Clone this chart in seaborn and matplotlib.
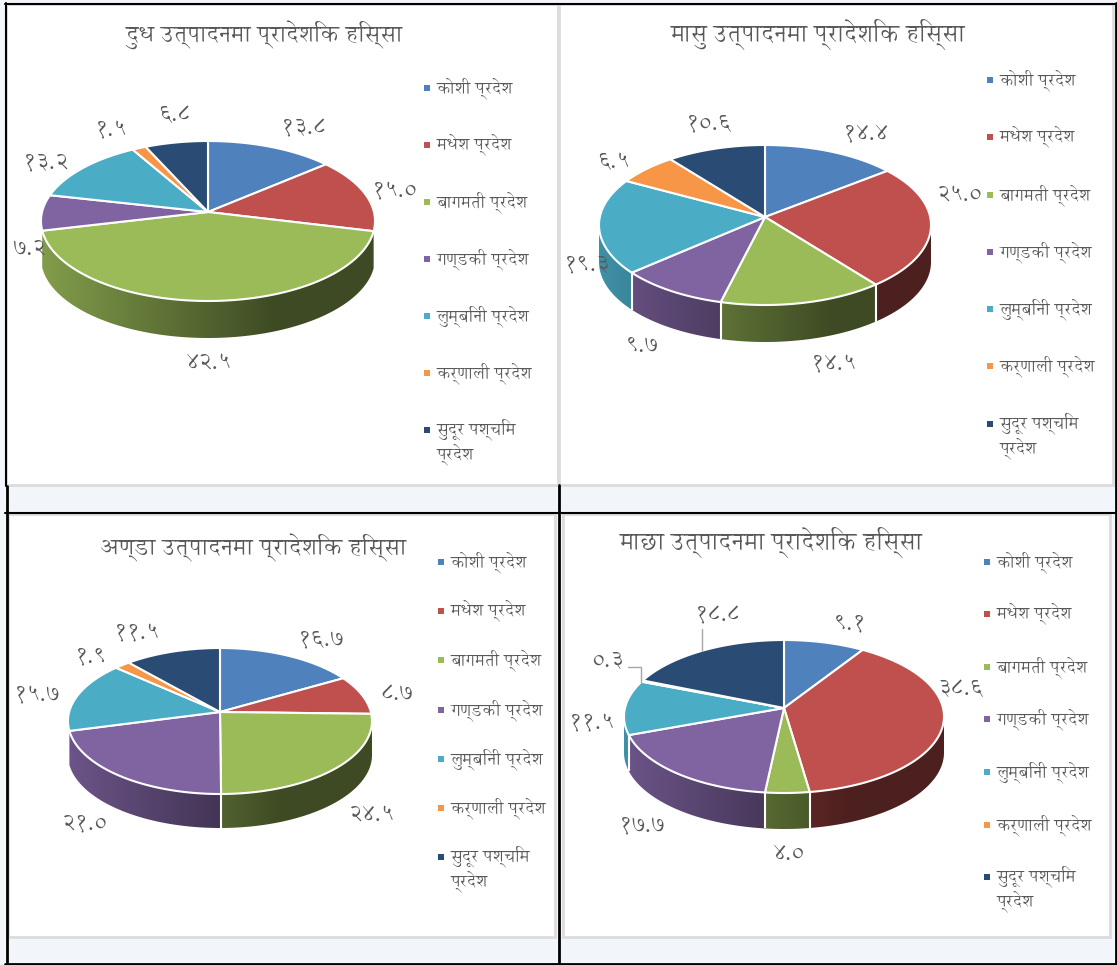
import numpy as np
import matplotlib
matplotlib.use("Agg")
import matplotlib.pyplot as plt
import seaborn as sns
from matplotlib.colors import to_rgb
from matplotlib.lines import Line2D
from matplotlib.patches import Polygon, Rectangle

# data
provinces = ["कोशी प्रदेश", "मधेश प्रदेश", "बागमती प्रदेश", "गण्डकी प्रदेश",
             "लुम्बिनी प्रदेश", "कर्णाली प्रदेश", "सुदूर पश्चिम\nप्रदेश"]
milk = [13.8, 15.0, 42.5, 7.2, 13.2, 1.5, 6.8]
meat = [14.4, 25.0, 14.5, 9.7, 19.3, 6.5, 10.6]
egg = [16.7, 8.7, 24.5, 21.0, 15.7, 1.9, 11.5]
fish = [9.1, 38.6, 4.0, 17.7, 11.5, 0.3, 18.8]
milk_labels = ["१३.८", "१५.०", "४२.५", "७.२", "१३.२", "१.५", "६.८"]
meat_labels = ["१४.४", "२५.०", "१४.५", "९.७", "१९.३", "६.५", "१०.६"]
egg_labels = ["१६.७", "८.७", "२४.५", "२१.०", "१५.७", "१.९", "११.५"]
fish_labels = ["९.१", "३८.६", "४.०", "१७.७", "११.५", "०.३", "१८.८"]
titles = ["दुध उत्पादनमा प्रादेशिक हिस्सा", "मासु उत्पादनमा प्रादेशिक हिस्सा",
          "अण्डा उत्पादनमा प्रादेशिक हिस्सा", "माछा उत्पादनमा प्रादेशिक हिस्सा"]
colors = ["#4F81BD", "#C0504D", "#9BBB59", "#8064A2", "#4BACC6", "#F79646", "#2A4B74"]

W, H = 1117, 965
FONT = ["Annapurna SIL", "DejaVu Sans"]
TEXT = "#595959"

sns.set_theme(style="white")
plt.rcParams["font.family"] = FONT

# layout of each panel, in picture pixels
panels = [
    dict(values=milk, labels=milk_labels, title=titles[0], box=(6, 4, 558, 485),
         cx=208, cy=212, rx=167, up=71, down=89, depth=37, title_xy=(264, 35), title_size=16.4,
         label_xy=[(304, 127), (395, 190), (209, 362), (30, 247), (46, 161), (111, 129), (175, 114)],
         leg_x=427, leg_y=[88, 145, 202, 259, 316, 373, 430]),
    dict(values=meat, labels=meat_labels, title=titles[1], box=(559, 4, 1113, 485),
         cx=765, cy=217, rx=166, up=72, down=88, depth=37, title_xy=(817, 35), title_size=17,
         label_xy=[(866, 132), (959, 194), (834, 363), (642, 345), (587, 263), (614, 161), (709, 122)],
         leg_x=990, leg_y=[80, 137, 195, 252, 309, 366, 424]),
    dict(values=egg, labels=egg_labels, title=titles[2], box=(8, 514, 555, 937),
         cx=220, cy=712, rx=152, up=64, down=82, depth=34, title_xy=(253, 548), title_size=16.5,
         label_xy=[(321, 638), (397, 693), (371, 814), (84, 822), (37, 694), (91, 655), (137, 632)],
         leg_x=441, leg_y=[562, 611, 660, 710, 759, 808, 857]),
    dict(values=fish, labels=fish_labels, title=titles[3], box=(563, 514, 1110, 937),
         cx=784, cy=708, rx=160, up=68, down=85, depth=36, title_xy=(770, 543), title_size=17,
         label_xy=[(850, 622), (961, 688), (789, 852), (642, 824), (592, 722), (608, 659), (718, 614)],
         leg_x=987, leg_y=[562, 614, 667, 719, 772, 825, 877]),
]


def rim(theta, p):
    # rim of the tilted disc, angle in degrees clockwise from the top
    k = (p["down"] - p["up"]) / (p["down"] + p["up"])
    b = p["up"] * (1 + k)
    t = np.radians(theta)
    d = 1 + k * np.cos(t)
    return p["cx"] + p["rx"] * np.sqrt(1 - k * k) * np.sin(t) / d, p["cy"] - b * np.cos(t) / d


def wall_gradient(color):
    # side wall goes from a bit darker on the left to very dark on the right
    u = np.linspace(0, 1, 256)
    f = 0.84 - 0.44 * np.minimum(u / 0.7, 1.0)
    return f[None, :, None] * np.array(to_rgb(color))[None, None, :]


def draw_pie(ax, p):
    edges = np.concatenate([[0], np.cumsum(p["values"])]) / sum(p["values"]) * 360
    k = (p["down"] - p["up"]) / (p["down"] + p["up"])
    t0 = np.degrees(np.arccos(-k))
    t1 = 360 - t0
    left, right = p["cx"] - p["rx"], p["cx"] + p["rx"]
    top, bottom = p["cy"] - p["up"], p["cy"] + p["down"] + p["depth"]

    # side wall
    for i, color in enumerate(colors):
        a, b = max(edges[i], t0), min(edges[i + 1], t1)
        if b <= a:
            continue
        th = np.linspace(a, b, int(b - a) * 2 + 3)
        x, y = rim(th, p)
        if x.max() - x.min() < 2.5:  # slivers at the sides do not show
            continue
        poly = Polygon(np.c_[np.r_[x, x[::-1]], np.r_[y, y[::-1] + p["depth"]]],
                       closed=True, facecolor="none", edgecolor="none", transform=ax.transData)
        ax.add_patch(poly)
        im = ax.imshow(wall_gradient(color), extent=(left, right, bottom, top),
                       aspect="auto", interpolation="bilinear", zorder=1)
        im.set_clip_path(poly)

    # white seams on the wall
    for e in edges[1:-1]:
        if t0 + 8 < e < t1 - 8:
            x, y = rim(e, p)
            ax.plot([x, x], [y, y + p["depth"]], color="white", lw=1.5,
                    solid_capstyle="butt", zorder=2)

    # top face
    for i, color in enumerate(colors):
        th = np.linspace(edges[i], edges[i + 1], max(int(edges[i + 1] - edges[i]) * 2 + 2, 3))
        x, y = rim(th, p)
        ax.fill(np.r_[p["cx"], x], np.r_[p["cy"], y], facecolor=color, edgecolor="white",
                linewidth=1.5, joinstyle="round", zorder=3)


fig = plt.figure(figsize=(W / 100, H / 100), dpi=100, facecolor="#F2F5FA")

# background: white panels and the black table rules
bg = fig.add_axes([0, 0, 1, 1], zorder=0)
bg.set_xlim(0, W)
bg.set_ylim(H, 0)
bg.axis("off")
for p in panels:
    x0, y0, x1, y1 = p["box"]
    bg.add_patch(Rectangle((x0, y0), x1 - x0, y1 - y0, facecolor="white", edgecolor="#DCDCDC", lw=2))
for xs, ys, lw in [([5, 1116], [3.5, 3.5], 1.5), ([5.5, 5.5], [3, 486], 1.5), ([6.5, 6.5], [486, 964], 2),
                   ([5, 1116], [513, 513], 1.5), ([558.5, 558.5], [485, 964], 2),
                   ([5, 1116], [963.5, 963.5], 2), ([1116, 1116], [3, 964], 2)]:
    bg.add_line(Line2D(xs, ys, color="black", lw=lw))

for p in panels:
    ax = fig.add_axes([0, 0, 1, 1], zorder=1)
    ax.axis("off")
    ax.patch.set_alpha(0)
    draw_pie(ax, p)
    ax.set_xlim(0, W)
    ax.set_ylim(H, 0)

    ax.text(*p["title_xy"], p["title"], ha="center", va="center", fontsize=p["title_size"],
            color=TEXT, zorder=5)
    for text, (x, y) in zip(p["labels"], p["label_xy"]):
        ax.text(x, y + 1.5, text, ha="center", va="center", fontsize=16.5, color=TEXT, zorder=5)

    # legend
    for name, color, y in zip(provinces, colors, p["leg_y"]):
        ax.plot(p["leg_x"], y, marker="s", ms=4.6, color=color, mew=0, ls="none", zorder=5)
        ty = y + 12 if "\n" in name else y
        ax.text(p["leg_x"] + 10, ty, name, ha="left", va="center", fontsize=12, color=TEXT,
                linespacing=1.25, zorder=5)

# leader lines on the fish pie
fish_ax = fig.axes[-1]
fish_ax.plot([702, 702], [629, 651], color="#A6A6A6", lw=1, zorder=5)
fish_ax.plot([628, 641, 641], [667, 667, 682], color="#A6A6A6", lw=1, zorder=5)

fig.savefig("out.png", dpi=100, facecolor=fig.get_facecolor())
